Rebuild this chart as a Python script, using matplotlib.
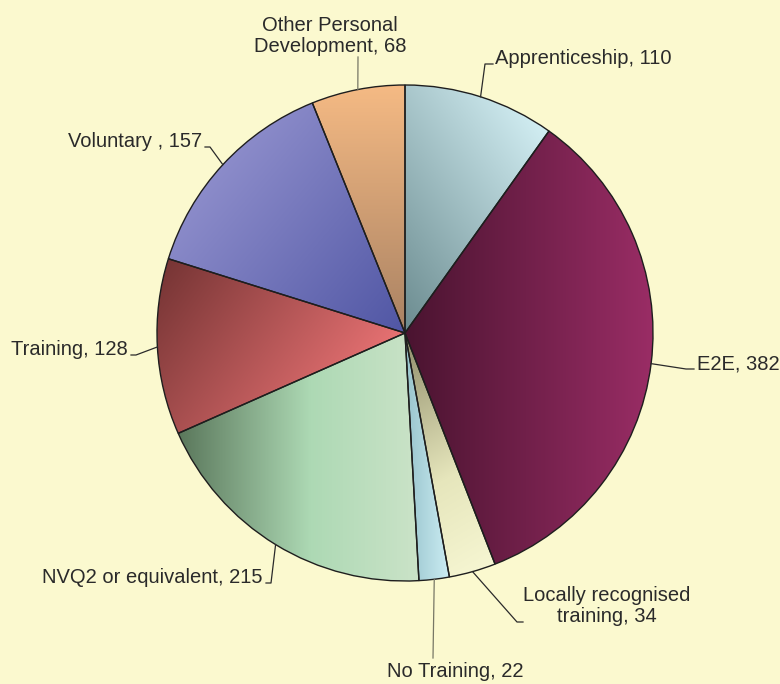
import numpy as np
import matplotlib
matplotlib.use("Agg")
import matplotlib.pyplot as plt
from matplotlib.colors import to_rgb

plt.rcParams['font.family'] = ['Liberation Sans', 'DejaVu Sans']

labels = ["Apprenticeship, 110", "E2E, 382", "Locally recognised\ntraining, 34",
          "No Training, 22", "NVQ2 or equivalent, 215", "Training, 128",
          "Voluntary , 157", "Other Personal\nDevelopment, 68"]
values = [110, 382, 34, 22, 215, 128, 157, 68]

# gradient per slice: direction (deg, screen), colour stops
grads = [
    (35, [(0, "#6B8B8F"), (1, "#D2EEF3")]),
    (0, [(0, "#4A1430"), (1, "#9B2D66")]),
    (-60, [(0, "#8F8C6A"), (0.6, "#E6E6BC"), (1, "#F6F6D2")]),
    (0, [(0, "#98C4CC"), (1, "#CBECF3")]),
    (0, [(0, "#5A775B"), (0.55, "#ADD9B4"), (1, "#CBE3C8")]),
    (-35, [(0, "#773535"), (1, "#E87273")]),
    (-40, [(0, "#8C8CCA"), (1, "#5056A4")]),
    (-90, [(0, "#F5BA84"), (1, "#A98263")]),
]

# label layout in pixel coords (y down): text pos, ha, elbow points
H = 684
layout = [
    ((495, 64), "left", [(485, 64), (493, 64)]),
    ((697, 369), "left", [(686, 369), (694, 369)]),
    ((607, 622), "center", [(517, 622), (523, 622)]),
    ((455, 677), "center", [(433, 658)]),
    ((262, 583), "right", [(271, 583), (266, 583)]),
    ((128, 355), "right", [(136, 355), (131, 355)]),
    ((202, 147), "right", [(210, 147), (205, 147)]),
    ((330, 52), "center", [(358, 57)]),
]

bg = "#FBF9CF"
fig = plt.figure(figsize=(7.8, 6.84), dpi=100, facecolor=bg)
ax = fig.add_axes([0, 0, 1, 1])
ax.set_facecolor(bg)

cx, cy, R = 405, H - 333, 248
wedges, _ = ax.pie(values, center=(cx, cy), radius=R, startangle=90,
                   counterclock=False, frame=True,
                   wedgeprops=dict(edgecolor="#1E1E1E", linewidth=1.0))
ax.set_aspect("equal")
ax.axis("off")

xs = np.linspace(cx - R - 2, cx + R + 2, 500)
ys = np.linspace(cy - R - 2, cy + R + 2, 500)
X, Y = np.meshgrid(xs, ys)
for w, (ang, stops) in zip(wedges, grads):
    d = np.deg2rad(ang)
    dx, dy = np.cos(d), np.sin(d)
    verts = w.get_patch_transform().transform(w.get_path().vertices)
    proj = verts[:, 0] * dx + verts[:, 1] * dy
    t = (X * dx + Y * dy - proj.min()) / (proj.max() - proj.min())
    t = np.clip(t, 0, 1)
    pos = [s[0] for s in stops]
    cols = np.array([to_rgb(s[1]) for s in stops])
    img = np.stack([np.interp(t, pos, cols[:, k]) for k in range(3)], axis=-1)
    im = ax.imshow(img, extent=(xs[0], xs[-1], ys[0], ys[-1]), origin="lower",
                   zorder=0.5, interpolation="bilinear")
    im.set_clip_path(w)
    w.set_facecolor("none")
    w.set_zorder(1)

ax.set_xlim(0, 780)
ax.set_ylim(0, H)

for w, lab, ((tx, ty), ha, elbow) in zip(wedges, labels, layout):
    mid = np.deg2rad((w.theta1 + w.theta2) / 2)
    px, py = cx + R * np.cos(mid), cy + R * np.sin(mid)
    lx = [px] + [e[0] for e in elbow]
    ly = [py] + [H - e[1] for e in elbow]
    col = "#777766" if lab.startswith(("No", "Other")) else "#2A2A2A"
    ax.plot(lx, ly, color=col, lw=0.9, zorder=2)
    ax.text(tx, H - ty, lab, ha=ha, va="baseline", fontsize=14.5,
            color="#2A2A2A", multialignment="center", linespacing=1.15)

fig.savefig("out.png", dpi=100, facecolor=bg)
